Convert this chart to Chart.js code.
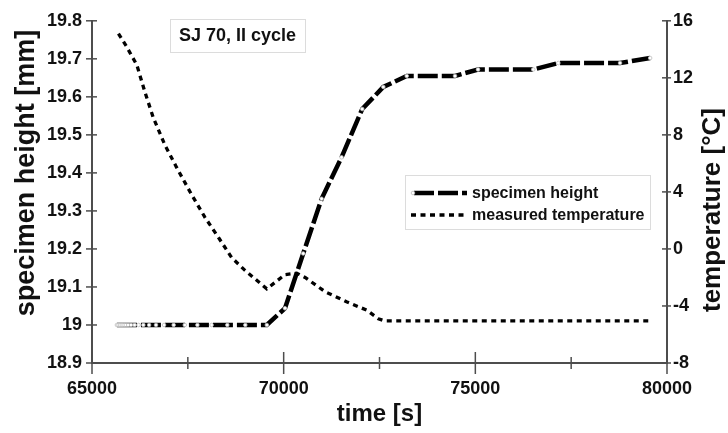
<!DOCTYPE html>
<html>
<head>
<meta charset="utf-8">
<script src="https://cdn.jsdelivr.net/npm/chart.js@4/dist/chart.umd.min.js"></script>
<style>
  html, body { margin: 0; padding: 0; background: #fff; }
  canvas { display: block; }
</style>
</head>
<body>
<canvas id="chart" width="728" height="433"></canvas>
<script>
// specimen height, II cycle
const heightTime = [65650, 65690, 65730, 65775, 65825, 65880, 65945, 66020, 66110, 66215, 66340, 66490,
  66670, 66880, 67130, 67420, 67750, 68120, 68530, 69000, 69560, 70035, 70510, 70990, 71510, 72050,
  72600, 73210, 74470, 75070, 76510, 77165, 78775, 79560];
const heightMm = [19.0, 19.0, 19.0, 19.0, 19.0, 19.0, 19.0, 19.0, 19.0, 19.0, 19.0, 19.0,
  19.0, 19.0, 19.0, 19.0, 19.0, 19.0, 19.0, 19.0, 19.0, 19.044, 19.188, 19.332, 19.441, 19.568,
  19.626, 19.655, 19.655, 19.672, 19.672, 19.689, 19.689, 19.702];

// measured temperature
const tempTime = [65690, 65900, 66170, 66380, 66600, 66900, 67210, 67600, 67950, 68300, 68640, 68990,
  69560, 70035, 70340, 70560, 71080, 71640, 72170, 72470, 72640, 79600];
const tempC = [15.1, 14.2, 12.9, 11.0, 9.2, 7.3, 5.7, 3.8, 2.2, 0.8, -0.6, -1.5,
  -2.8, -1.8, -1.7, -2.0, -3.0, -3.7, -4.3, -4.9, -5.05, -5.05];

const seriesLabels = ["specimen height", "measured temperature"];
const chartNote = "SJ 70, II cycle";
const yTitle = "specimen height [mm]";
const y2Title = "temperature [°C]";
const xTitle = "time [s]";

const FONT = "'Liberation Sans', Arial, sans-serif";
const AXIS = "#4d4d4d";
const INK = "#111";

// tick marks that cross the axis lines
const crossTicks = {
  id: "crossTicks",
  afterDraw(chart) {
    const { ctx, scales: { x, y, y2 } } = chart;
    ctx.save();
    ctx.strokeStyle = AXIS;
    ctx.lineWidth = 1.5;
    const seg = (x1, y1, x2, y2_) => {
      ctx.beginPath(); ctx.moveTo(x1, y1); ctx.lineTo(x2, y2_); ctx.stroke();
    };
    x.ticks.forEach(t => {
      const px = x.getPixelForValue(t.value);
      const len = t.value % 5000 === 0 ? 11 : 6;
      seg(px, x.top - len, px, x.top + len);
    });
    y.ticks.forEach(t => {
      const py = y.getPixelForValue(t.value);
      seg(y.right - 6, py, y.right + 5, py);
    });
    y2.ticks.forEach(t => {
      const py = y2.getPixelForValue(t.value);
      seg(y2.left - 5, py, y2.left + 4, py);
    });
    ctx.restore();
  }
};

// note box, legend box and the two vertical axis titles
const decorations = {
  id: "decorations",
  afterDraw(chart) {
    const { ctx } = chart;
    ctx.save();

    // note box
    ctx.fillStyle = "#fff";
    ctx.strokeStyle = "#dcdcdc";
    ctx.lineWidth = 1;
    ctx.fillRect(170, 19, 135, 33);
    ctx.strokeRect(170.5, 19.5, 135, 33);
    ctx.fillStyle = INK;
    ctx.font = "bold 18px " + FONT;
    ctx.textAlign = "center";
    ctx.textBaseline = "middle";
    ctx.fillText(chartNote, 237.5, 36.5);

    // legend box
    ctx.fillStyle = "#fff";
    ctx.fillRect(405, 175, 245, 54);
    ctx.strokeStyle = "#dcdcdc";
    ctx.strokeRect(405.5, 175.5, 245, 54);
    chart.data.datasets.forEach((ds, i) => {
      const yy = 193 + i * 22;
      ctx.save();
      ctx.strokeStyle = ds.borderColor;
      ctx.lineWidth = ds.borderWidth;
      ctx.setLineDash(ds.borderDash || []);
      ctx.beginPath();
      ctx.moveTo(i === 0 ? 414 : 411, yy);
      ctx.lineTo(467, yy);
      ctx.stroke();
      ctx.restore();
      if (i === 0) {
        ctx.beginPath();
        ctx.arc(413, yy, 1.8, 0, Math.PI * 2);
        ctx.fillStyle = "#fff";
        ctx.fill();
        ctx.strokeStyle = "#bbb";
        ctx.lineWidth = 0.8;
        ctx.stroke();
      }
      ctx.fillStyle = INK;
      ctx.font = "bold 16px " + FONT;
      ctx.textAlign = "left";
      ctx.textBaseline = "middle";
      ctx.fillText(ds.label, 472, yy + 1);
    });

    // vertical axis titles
    ctx.fillStyle = INK;
    ctx.textAlign = "center";
    ctx.textBaseline = "middle";
    ctx.save();
    ctx.font = "bold 27px " + FONT;
    ctx.translate(27, 173);
    ctx.rotate(-Math.PI / 2);
    ctx.fillText(yTitle, 0, 0);
    ctx.restore();
    ctx.save();
    ctx.font = "bold 26px " + FONT;
    ctx.translate(713, 210);
    ctx.rotate(-Math.PI / 2);
    ctx.fillText(y2Title, 0, 0);
    ctx.restore();

    ctx.restore();
  }
};

const tickFont = { family: FONT, size: 18, weight: "bold" };

new Chart(document.getElementById("chart"), {
  type: "line",
  data: {
    datasets: [
      {
        label: seriesLabels[0],
        data: heightTime.map((t, i) => ({ x: t, y: heightMm[i] })),
        yAxisID: "y",
        borderColor: "#000",
        borderWidth: 4.5,
        borderDash: [20, 4],
        tension: 0,
        pointRadius: 1.8,
        pointBackgroundColor: "#fff",
        pointBorderColor: "#bbb",
        pointBorderWidth: 0.8
      },
      {
        label: seriesLabels[1],
        data: tempTime.map((t, i) => ({ x: t, y: tempC[i] })),
        yAxisID: "y2",
        borderColor: "#000",
        borderWidth: 3.3,
        borderDash: [5, 4.5],
        tension: 0,
        pointRadius: 0
      }
    ]
  },
  options: {
    responsive: false,
    animation: false,
    layout: { padding: { top: 19, left: 0, right: 0, bottom: 0 } },
    plugins: { legend: { display: false }, tooltip: { enabled: false } },
    scales: {
      x: {
        type: "linear",
        min: 65000,
        max: 80000,
        afterFit: s => { s.height = 70; },
        border: { color: AXIS, width: 2 },
        grid: { display: false, drawTicks: false },
        ticks: {
          stepSize: 2500,
          autoSkip: false,
          maxRotation: 0,
          padding: 15,
          color: INK,
          font: tickFont,
          callback: v => (v % 5000 === 0 ? String(v) : "")
        },
        title: {
          display: true,
          text: xTitle,
          color: INK,
          font: { family: FONT, size: 24, weight: "bold" },
          padding: { top: 0, bottom: 4 }
        }
      },
      y: {
        position: "left",
        min: 18.9,
        max: 19.8,
        afterFit: s => { s.width = 92; },
        border: { color: AXIS, width: 2 },
        grid: { display: false, drawTicks: false },
        ticks: {
          stepSize: 0.1,
          padding: 10,
          color: INK,
          font: tickFont,
          callback: v => String(Number(v.toFixed(1)))
        }
      },
      y2: {
        position: "right",
        min: -8,
        max: 16,
        afterFit: s => { s.width = 61; },
        border: { color: AXIS, width: 2 },
        grid: { display: false, drawTicks: false },
        ticks: { stepSize: 4, padding: 6, color: INK, font: tickFont }
      }
    }
  },
  plugins: [crossTicks, decorations]
});
</script>
</body>
</html>
